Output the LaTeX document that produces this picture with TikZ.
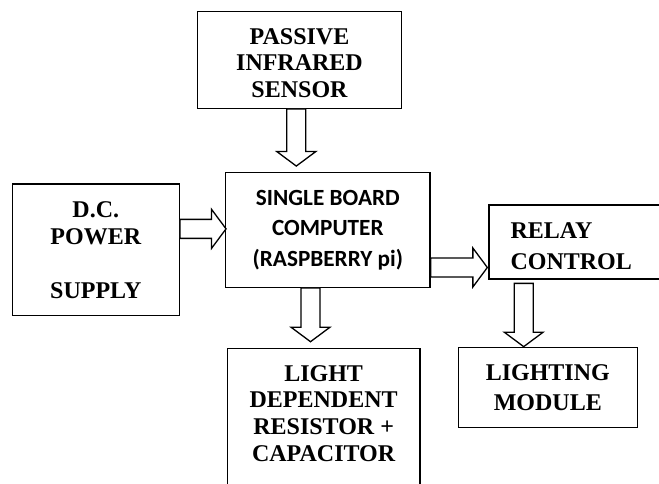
\documentclass[tikz,border=0pt]{standalone}
\usepackage{fontspec}
\setmainfont{Liberation Serif}
\newfontfamily\boardfont{Carlito}
\usetikzlibrary{calc,positioning}

\newcommand{\arrshaft}{9.5pt}
\newcommand{\arrhead}{19.5pt}
\newcommand{\arrlen}{14.5pt}

\newcommand{\blockdown}[2]{%
	\draw[hollowarrow] let \p1=(#1), \p2=(#2) in
	(\x1-\arrshaft,\y1) -- (\x1-\arrshaft,\y2+\arrlen) -- (\x1-\arrhead,\y2+\arrlen) --
	(\x1,\y2) -- (\x1+\arrhead,\y2+\arrlen) -- (\x1+\arrshaft,\y2+\arrlen) --
	(\x1+\arrshaft,\y1) -- cycle;}

\newcommand{\blockright}[2]{%
	\draw[hollowarrow] let \p1=(#1), \p2=(#2) in
	(\x1,\y1+\arrshaft) -- (\x2-\arrlen,\y1+\arrshaft) -- (\x2-\arrlen,\y1+\arrhead) --
	(\x2,\y1) -- (\x2-\arrlen,\y1-\arrhead) -- (\x2-\arrlen,\y1-\arrshaft) --
	(\x1,\y1-\arrshaft) -- cycle;}

\begin{document}
\begin{tikzpicture}[x=1pt, y=-1pt,
	blockbox/.style={draw=black, line width=1.3pt, align=center, inner sep=0pt,
		font=\bfseries\fontsize{24}{26.7}\selectfont},
	boardbox/.style={blockbox, font=\boardfont\bfseries\fontsize{23.2}{30.4}\selectfont},
	blocktext/.style={inner sep=0pt, align=center, font=\bfseries\fontsize{24}{26.7}\selectfont},
	hollowarrow/.style={draw=black, line width=1.3pt, fill=white}]
	\useasboundingbox (0,0) rectangle (659,484);
	\clip (0,0) rectangle (659,484);

	\node[blockbox, minimum width=204.4pt, minimum height=96.6pt] (pir) at (299.5,60) {};
	\node[blocktext, below=17pt of pir.north] (pirtext) {PASSIVE\\INFRARED\\SENSOR};

	\node[boardbox, minimum width=204.3pt, minimum height=114.6pt] (sbc) at (327.85,230) {SINGLE BOARD\\COMPUTER\\(RASPBERRY pi)};

	\node[blockbox, minimum width=167pt, minimum height=131.7pt] (dc) at (95.8,249.85) {D.C.\\POWER\\[27.3pt]SUPPLY};

	\node[blockbox, minimum width=191pt, minimum height=74pt] (relay) at (584.5,242) {};
	\node[blocktext, align=left, anchor=north west, font=\bfseries\fontsize{24}{31}\selectfont] (relaytext)
		at ([xshift=22pt,yshift=-18pt]relay.north west) {RELAY\\CONTROL};

	\node[blockbox, minimum width=192.7pt, minimum height=150pt, anchor=north] (ldr) at (323.65,347.7) {};
	\node[blocktext, below=17.3pt of ldr.north] (ldrtext) {LIGHT\\DEPENDENT\\RESISTOR +\\CAPACITOR};

	\node[blockbox, minimum width=179pt, minimum height=80.4pt,
		font=\bfseries\fontsize{24}{29.7}\selectfont] (light) at (547.8,387.5) {LIGHTING\\MODULE};

	\blockdown{[xshift=-3.2pt]pir.south}{[yshift=6pt]sbc.north}
	\blockright{[yshift=21pt]dc.east}{[xshift=1pt]sbc.west}
	\blockright{[yshift=-37.5pt]sbc.east}{[xshift=-1pt]relay.west}
	\blockdown{[xshift=-17.35pt]sbc.south}{[yshift=6pt]ldr.north}
	\blockdown{[xshift=-60.8pt,yshift=-3.7pt]relay.south}{light.north}

\end{tikzpicture}
\end{document}
